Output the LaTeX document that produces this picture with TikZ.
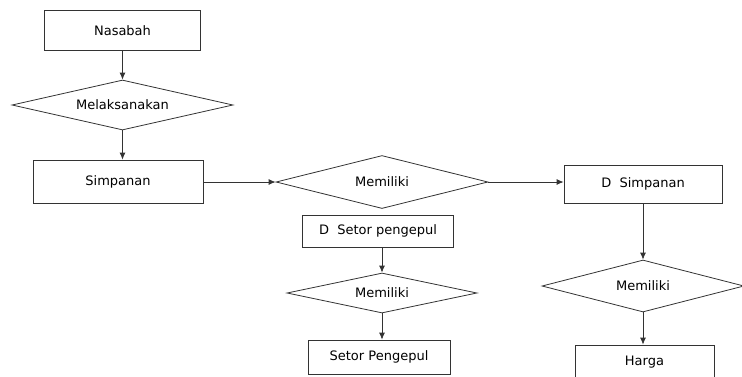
\documentclass[tikz,border=0pt]{standalone}
\usepackage{fontspec}
\setmainfont{DejaVu Sans}
\usepackage{tikz}
\usetikzlibrary{shapes.geometric}
\usetikzlibrary{arrows.meta}

\tikzset{
every picture/.style={
line width=0.8pt
},
box/.style={draw=black!80, rectangle, inner sep=0pt, font=\fontsize{13}{15}\selectfont},
decision/.style={draw=black!80, diamond, inner sep=0pt, font=\fontsize{13}{15}\selectfont},
arr/.style={draw=black!80, -{Latex[length=7pt,width=6pt]}}
}

\begin{document}
\begin{tikzpicture}[x=1pt, y=-1pt]
  \useasboundingbox (0,0) rectangle (742,376);

  % left column
  \node [box, minimum width=156pt, minimum height=40pt] at (122.5, 30.5) (nasabah) {Nasabah};
  \node [decision, aspect=4.42, minimum width=221pt, minimum height=50pt] at (122.5, 105) (melak) {Melaksanakan};
  \node [box, minimum width=170pt, minimum height=43pt] at (118, 181.5) (simp) {Simpanan};

  % middle column
  \node [decision, aspect=4, minimum width=212pt, minimum height=53pt] at (382, 182) (mem1) {Memiliki};
  \node [box, minimum width=151pt, minimum height=32pt] at (378, 231) (dsetor) {D\ \ Setor pengepul};
  \node [decision, aspect=4.75, minimum width=190pt, minimum height=40pt] at (382, 293) (mem2) {Memiliki};
  \node [box, minimum width=142pt, minimum height=34pt] at (379, 357) (setor) {Setor Pengepul};

  % right column
  \node [box, minimum width=158pt, minimum height=38pt] at (643, 184) (dsimp) {D\ \ Simpanan};
  \node [decision, aspect=3.88, minimum width=202pt, minimum height=52pt] at (643, 286) (mem3) {Memiliki};
  \node [box, minimum width=139pt, minimum height=34pt] at (644.5, 362) (harga) {Harga};

  \draw [arr] (nasabah.south) -- (nasabah.south |- melak.north);
  \draw [arr] (melak.south) -- (melak.south |- simp.north);
  \draw [arr] (simp.east |- mem1.west) -- (mem1.west);
  \draw [arr] (mem1.east) -- (mem1.east -| dsimp.west);
  \draw [arr] (mem2.north |- dsetor.south) -- (mem2.north);
  \draw [arr] (mem2.south) -- (mem2.south |- setor.north);
  \draw [arr] (mem3.north |- dsimp.south) -- (mem3.north);
  \draw [arr] (mem3.south) -- (mem3.south |- harga.north);

\end{tikzpicture}
\end{document}
